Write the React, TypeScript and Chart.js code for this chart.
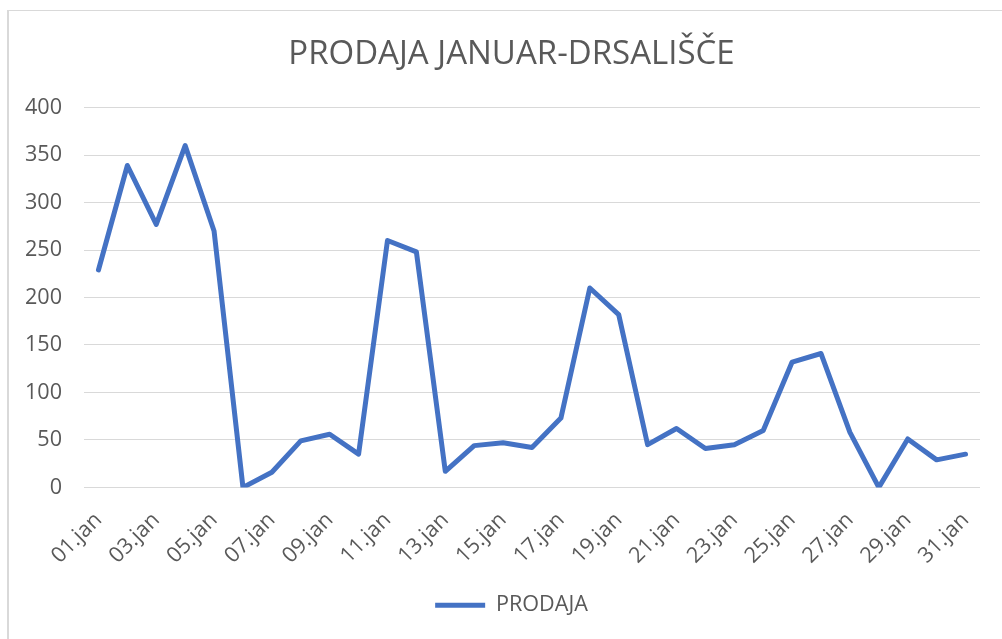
import React, { useEffect, useRef } from "react";
import { Chart, registerables } from "chart.js";

Chart.register(...registerables);

const TITLE = "PRODAJA JANUAR-DRSALIŠČE";
const SERIES_NAME = "PRODAJA";

const categories = [
  "01.jan", "02.jan", "03.jan", "04.jan", "05.jan", "06.jan", "07.jan", "08.jan",
  "09.jan", "10.jan", "11.jan", "12.jan", "13.jan", "14.jan", "15.jan", "16.jan",
  "17.jan", "18.jan", "19.jan", "20.jan", "21.jan", "22.jan", "23.jan", "24.jan",
  "25.jan", "26.jan", "27.jan", "28.jan", "29.jan", "30.jan", "31.jan",
];

const prodaja = [
  229, 339, 277, 360, 270, 0, 16, 49, 56, 35, 260, 248, 17, 44, 47, 42,
  73, 210, 182, 45, 62, 41, 45, 60, 132, 141, 58, 0, 51, 29, 35,
];

const yTicks = [0, 50, 100, 150, 200, 250, 300, 350, 400];

const FONT = "'Open Sans', 'DejaVu Sans', sans-serif";
const TEXT = "#595959";
const GRID = "#d9d9d9";
const LINE = "#4472C4";
const TICK_SIZE = 21.6;
const CANVAS_W = 1023;
const CANVAS_H = 639;

export default function App() {
  const ref = useRef<HTMLCanvasElement | null>(null);

  useEffect(() => {
    if (!ref.current) return;
    const chart = new Chart(ref.current, {
      type: "line",
      data: {
        labels: categories,
        datasets: [
          {
            label: SERIES_NAME,
            data: prodaja,
            borderColor: LINE,
            backgroundColor: LINE,
            borderWidth: 5,
            pointRadius: 0,
            pointHoverRadius: 0,
            tension: 0,
            borderJoinStyle: "round",
            borderCapStyle: "round",
            fill: false,
          },
        ],
      },
      options: {
        animation: false,
        responsive: false,
        maintainAspectRatio: false,
        layout: { padding: { left: 0, right: 0, top: 0, bottom: 13 } },
        plugins: {
          tooltip: { enabled: false },
          title: {
            display: true,
            text: TITLE,
            color: TEXT,
            font: { family: FONT, size: 33, weight: "normal" },
            padding: { top: 35, bottom: 33 },
          },
          legend: {
            display: true,
            position: "bottom",
            labels: {
              color: TEXT,
              font: { family: FONT, size: TICK_SIZE },
              usePointStyle: true,
              pointStyle: "line",
              pointStyleWidth: 50,
              padding: 10,
            },
          },
        },
        scales: {
          x: {
            type: "category",
            offset: true,
            grid: { display: false, drawTicks: false },
            border: { display: false },
            ticks: {
              color: TEXT,
              font: { family: FONT, size: TICK_SIZE },
              autoSkip: false,
              maxRotation: 45,
              minRotation: 45,
              padding: 20,
              callback: (_v: any, i: number) => (i % 2 === 0 ? categories[i] : ""),
            },
            afterFit: (s: any) => {
              s.height = 97;
            },
          },
          y: {
            min: 0,
            max: 400,
            afterBuildTicks: (s: any) => {
              s.ticks = yTicks.map((v) => ({ value: v }));
            },
            grid: { color: GRID, lineWidth: 1, drawTicks: false },
            border: { display: false },
            ticks: {
              color: TEXT,
              font: { family: FONT, size: TICK_SIZE },
              padding: 22,
            },
            afterFit: (s: any) => {
              s.width = 84;
            },
          },
          yRightSpace: {
            type: "linear",
            position: "right",
            display: true,
            grid: { display: false, drawTicks: false },
            border: { display: false },
            ticks: { display: false },
            afterFit: (s: any) => {
              s.width = 43;
            },
          },
        },
      },
    });
    return () => chart.destroy();
  }, []);

  return (
    <div style={{ position: "absolute", left: 0, top: 0, width: 1002, height: 639, background: "#fff", overflow: "hidden" }}>
      <div
        style={{
          position: "absolute",
          left: 7,
          top: 10,
          width: 1100,
          height: 700,
          borderLeft: `2px solid ${GRID}`,
          borderTop: `1px solid ${GRID}`,
        }}
      />
      <canvas ref={ref} width={CANVAS_W} height={CANVAS_H} style={{ position: "absolute", left: 0, top: 0 }} />
    </div>
  );
}
